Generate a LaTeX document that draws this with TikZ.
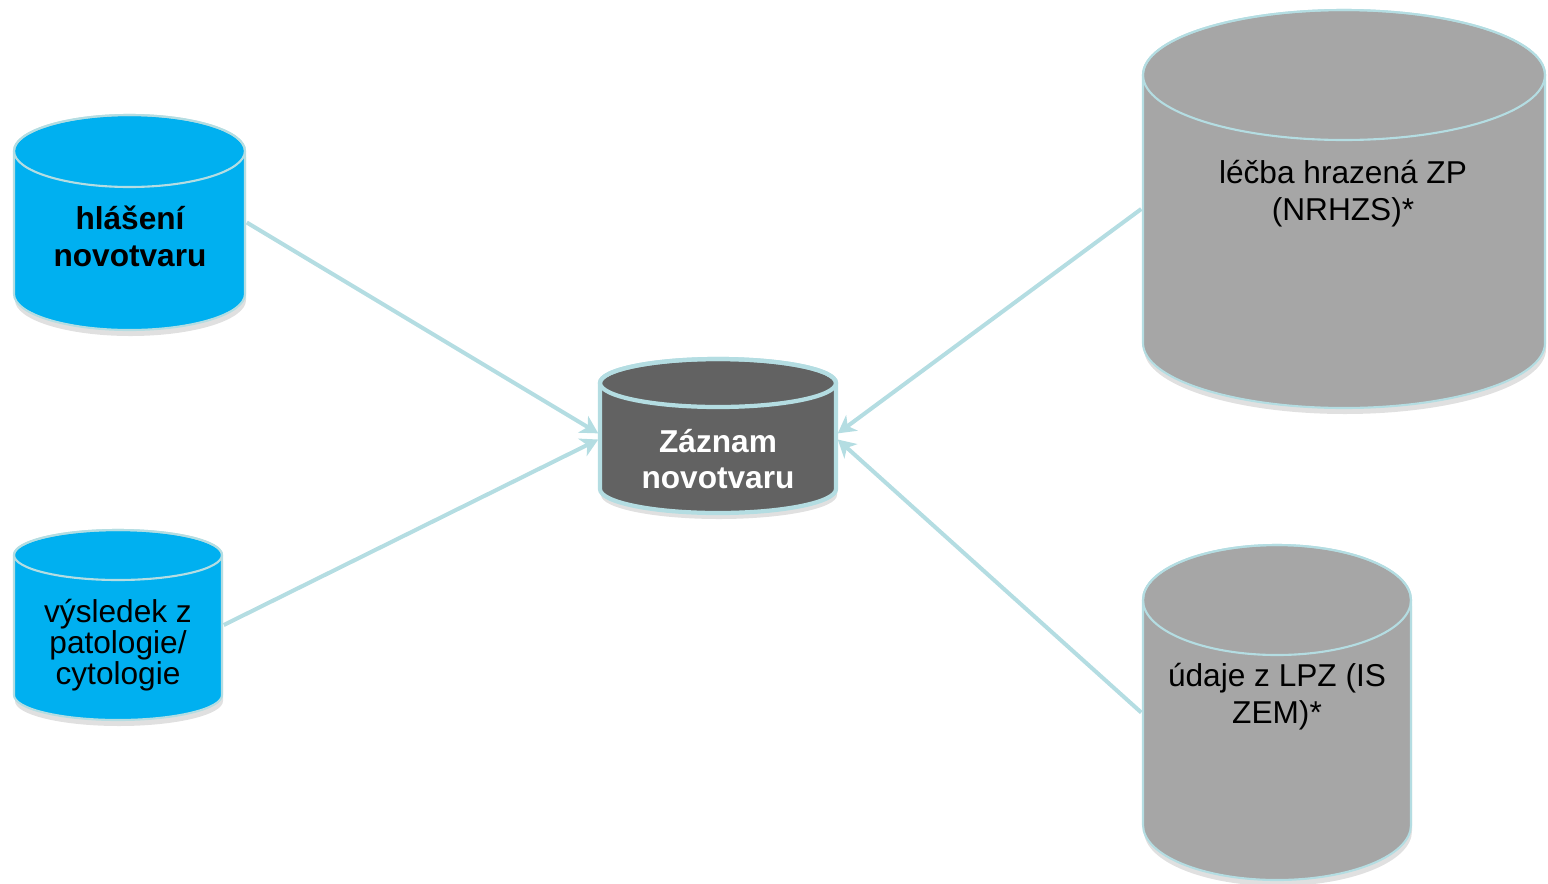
\documentclass[tikz,border=0pt]{standalone}
\usepackage{fontspec}
\setmainfont{Liberation Sans}
\usetikzlibrary{arrows.meta,positioning}
\definecolor{drumblue}{HTML}{00B0F0}
\definecolor{drumgray}{HTML}{A6A6A6}
\definecolor{drumdark}{HTML}{626262}
\definecolor{linkcyan}{HTML}{B4DDE2}

% #1 name, #2 cx, #3 top, #4 bottom, #5 rx, #6 ry, #7 style
\newcommand{\dbdrum}[7]{%
\node[drumbody, minimum width={2*#5*0.02cm}, minimum height={(#4-#3)*0.02cm}] (#1) at (#2,{(#3+#4)/2}) {};
\fill[black, opacity=.12] ([shift={(1,6)}]#1.north west) -- ([shift={(1,6)}]#1.south west)
  arc[start angle=180, end angle=0, x radius=#5, y radius=#6] -- ([shift={(1,6)}]#1.north east) -- cycle;
\filldraw[#7] (#1.north west) -- (#1.south west)
  arc[start angle=180, end angle=0, x radius=#5, y radius=#6] -- (#1.north east)
  arc[start angle=0, end angle=-180, x radius=#5, y radius=#6] -- cycle;
\draw[#7, fill=none] (#1.north) ellipse[x radius=#5, y radius=#6];
}

\tikzset{
  drumbody/.style={inner sep=0pt, outer sep=0pt},
  bluedrum/.style={fill=drumblue, draw=linkcyan, line width=1.2pt},
  graydrum/.style={fill=drumgray, draw=linkcyan, line width=1.2pt},
  darkdrum/.style={fill=drumdark, draw=linkcyan, line width=2.4pt},
  drumtext/.style={align=center, font=\fontsize{18}{21}\selectfont},
  link/.style={draw=linkcyan, line width=2.3pt, -{Stealth[length=10pt, width=11pt, inset=3pt]}}
}

\begin{document}
\begin{tikzpicture}[x=0.02cm, y=-0.02cm]
\useasboundingbox (0,0) rectangle (1548,883);

\dbdrum{hlaseni}{129.5}{151}{294}{115.5}{36}{bluedrum}
\dbdrum{vysledek}{118}{555}{695}{104}{25}{bluedrum}
\dbdrum{zaznam}{718}{383}{489}{118}{24}{darkdrum}
\dbdrum{lecba}{1344}{75}{343}{201}{65}{graydrum}
\dbdrum{udaje}{1277}{600}{825}{134}{55}{graydrum}

% texts
\node[drumtext, font=\fontsize{18}{21}\selectfont\bfseries] (hlaseni-t) at (130,236) {hlášení\\novotvaru};
\node[drumtext, font=\fontsize{18}{16.5}\selectfont] (vysledek-t) at (118,645) {výsledek z\\patologie/\\cytologie};
\node[drumtext, font=\fontsize{18}{21}\selectfont\bfseries, text=white] (zaznam-t) at (718,459) {Záznam\\novotvaru};
\node[drumtext] (lecba-t) at (1343,194) {léčba hrazená ZP\\(NRHZS)*};
\node[drumtext] (udaje-t) at (1277,697) {údaje z LPZ (IS\\ZEM)*};

% connectors
\draw[link] ([xshift=1pt]hlaseni.east) -- ([shift={(-1pt,1.5pt)}]zaznam.west);
\draw[link] ([xshift=1pt]vysledek.east) -- ([shift={(-1pt,-2pt)}]zaznam.west);
\draw[link] ([xshift=-1pt]lecba.west) -- ([shift={(1pt,1.5pt)}]zaznam.east);
\draw[link] ([xshift=-1pt]udaje.west) -- ([shift={(1pt,-2pt)}]zaznam.east);
\end{tikzpicture}
\end{document}
